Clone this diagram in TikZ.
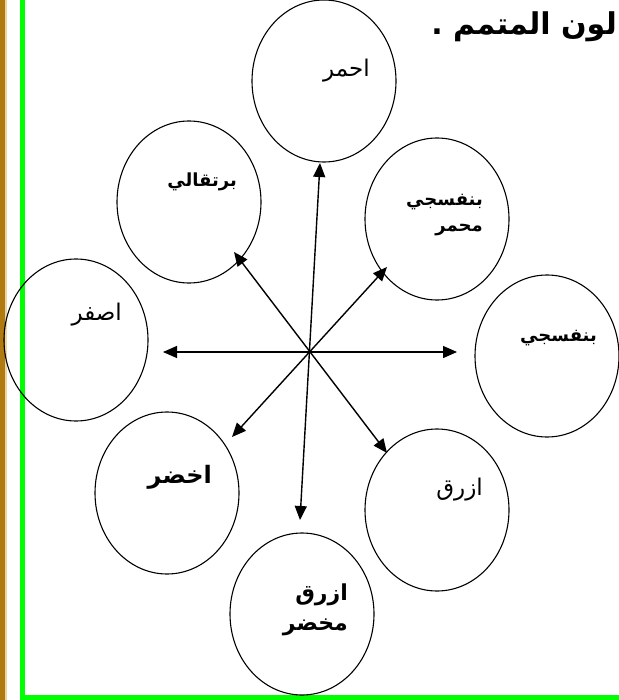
\documentclass[tikz,border=0pt]{standalone}
\usepackage{fontspec}
\usetikzlibrary{shapes.geometric,arrows.meta}
\newfontfamily\arabicfont[Script=Arabic]{DejaVu Sans}
\TeXXeTstate=1
\definecolor{brd}{RGB}{176,122,16}
\definecolor{tanc}{RGB}{232,214,165}
\definecolor{grn}{RGB}{0,255,0}
\begin{document}
\begin{tikzpicture}[x=1pt,y=-1pt,
  ell/.style={draw,ellipse,line width=1.1pt,minimum width=144pt,minimum height=162pt,inner sep=0pt},
  lbl/.style={anchor=east,inner sep=0pt,font=\arabicfont\fontsize{23}{26}\selectfont},
  blbl/.style={anchor=east,inner sep=0pt,align=right,font=\arabicfont\bfseries\fontsize{18}{26}\selectfont},
  arr/.style={line width=1.4pt,{Triangle[length=14pt,width=12pt]}-{Triangle[length=14pt,width=12pt]}}]
\useasboundingbox (0,0) rectangle (618,700);
\fill[brd] (0,0) rectangle (4.5,700);
\fill[tanc] (4.5,0) rectangle (6.5,700);
\draw[grn,line width=4.5pt] (22.5,-2) -- (22.5,697.5) -- (620,697.5);
% title
\node[anchor=east,inner sep=0pt,font=\arabicfont\bfseries\fontsize{30}{34}\selectfont] (title) at (617,27) {\beginR لون المتمم .\endR};
% ellipses
\node[ell] (red) at (324,81) {};
\node[ell] (orange) at (189,202) {};
\node[ell] (redviolet) at (437,219) {};
\node[ell] (yellow) at (76,340) {};
\node[ell] (violet) at (547,356) {};
\node[ell] (green) at (167,493) {};
\node[ell] (blue) at (437,510) {};
\node[ell] (bluegreen) at (302,614) {};
% labels
\node[lbl] (tred) at (370,71) {\beginR احمر\endR};
\node[blbl] (torange) at (237,182) {\beginR برتقالي\endR};
\node[blbl] (tredviolet) at (483,215) {\beginR بنفسجي\endR\\\beginR محمر\endR};
\node[lbl] (tyellow) at (122,315) {\beginR اصفر\endR};
\node[blbl] (tviolet) at (597,338) {\beginR بنفسجي\endR};
\node[blbl,font=\arabicfont\bfseries\fontsize{24}{28}\selectfont] (tgreen) at (212,477) {\beginR اخضر\endR};
\node[lbl] (tblue) at (483,490) {\beginR ازرق\endR};
\node[blbl,font=\arabicfont\bfseries\fontsize{22}{30}\selectfont] (tbluegreen) at (348,610) {\beginR ازرق\endR\\\beginR مخضر\endR};
% arrow tips
\coordinate (pN) at (320,163);
\coordinate (pS) at (300,520);
\coordinate (pW) at (163,352);
\coordinate (pE) at (457,352);
\coordinate (pNW) at (234,252);
\coordinate (pSE) at (387,453);
\coordinate (pNE) at (387,267);
\coordinate (pSW) at (232,437);
\draw[arr] (pN) -- (pS);
\draw[arr] (pW) -- (pE);
\draw[arr] (pNW) -- (pSE);
\draw[arr] (pNE) -- (pSW);
\end{tikzpicture}
\end{document}
